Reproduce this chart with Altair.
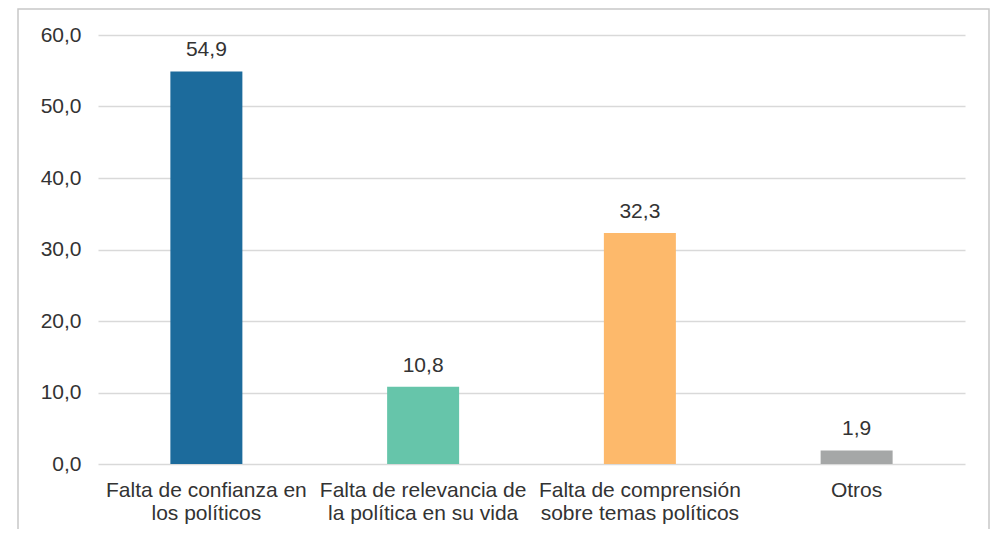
import altair as alt
import pandas as pd

categories = ["Falta de confianza en|los políticos",
              "Falta de relevancia de|la política en su vida",
              "Falta de comprensión|sobre temas políticos",
              "Otros"]
values = [54.9, 10.8, 32.3, 1.9]
colors = ["#1c6b9c", "#66c5aa", "#fdb96b", "#a5a7a7"]

df = pd.DataFrame({"cat": categories, "val": values, "col": colors})

FONT = "Liberation Sans"
FS = 21

base = alt.Chart(df).encode(
    x=alt.X("cat:N", sort=categories, title=None,
            scale=alt.Scale(paddingInner=0, paddingOuter=0),
            axis=alt.Axis(labelAngle=0, domain=False, ticks=False, labelPadding=15,
                          labelFontSize=FS, labelColor="#333333", labelFont=FONT,
                          labelLineHeight=23, labelLimit=300,
                          labelExpr="split(datum.label, '|')")),
)

bars = base.mark_bar(size=72).encode(
    y=alt.Y("val:Q", title=None,
            scale=alt.Scale(domain=[0, 60], nice=False),
            axis=alt.Axis(values=[0, 10, 20, 30, 40, 50, 60], domain=False, ticks=False,
                          labelPadding=17, labelFontSize=FS, labelColor="#333333",
                          labelFont=FONT, gridColor="#d9d9d9", gridWidth=1.5,
                          labelExpr="replace(format(datum.value, '.1f'), '.', ',')")),
    color=alt.Color("col:N", scale=None, legend=None),
)

labels = base.mark_text(dy=-21, fontSize=FS, font=FONT, color="#333333").transform_calculate(
    lab="replace(format(datum.val, '.1f'), '.', ',')"
).encode(y="val:Q", text="lab:N")

border = alt.Chart(df).mark_rect(fill=None, stroke="#c8c8c8", strokeWidth=1.5, clip=False).encode(
    x=alt.value(-80), x2=alt.value(891), y=alt.value(-26), y2=alt.value(560)
).transform_filter("datum.val > 50")

chart = alt.layer(border, bars, labels).properties(
    width=867, height=429,
    autosize=alt.AutoSizeParams(type="none"),
    padding={"left": 90, "top": 27, "right": 25, "bottom": 65},
).configure(background="white").configure_view(stroke=None)

chart.save("out.html", embed_options={"renderer": "svg", "actions": False})
